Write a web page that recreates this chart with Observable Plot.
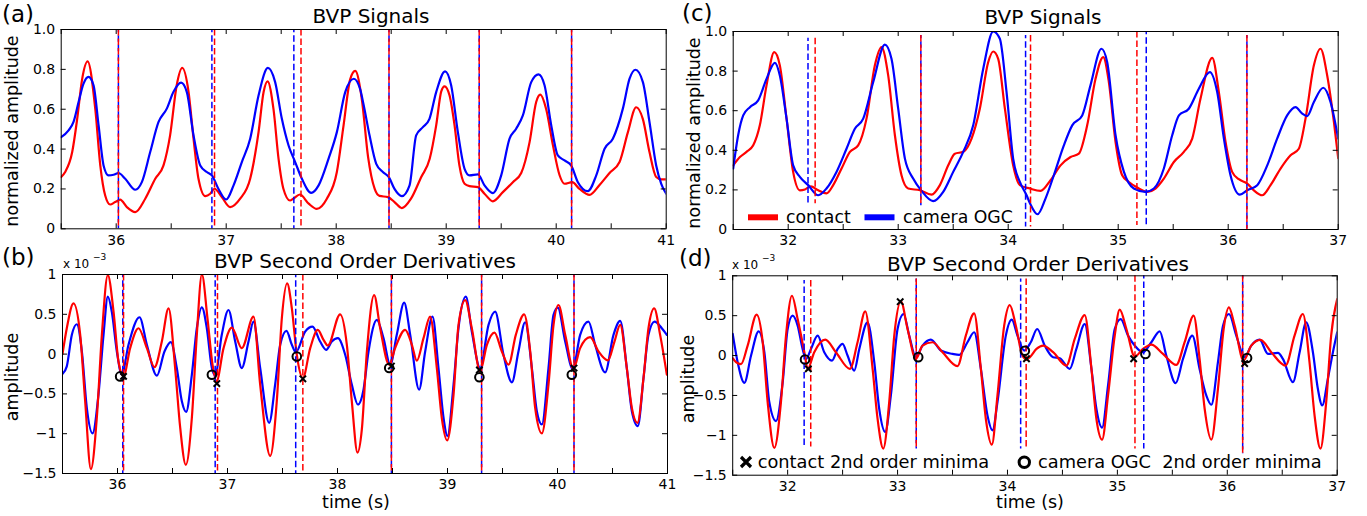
<!DOCTYPE html>
<html><head><meta charset="utf-8">
<script src="https://cdn.jsdelivr.net/npm/d3@7"></script>
<script src="https://cdn.jsdelivr.net/npm/@observablehq/plot@0.6"></script>
<style>
body{margin:0;background:#fff;}
#root{position:relative;width:1367px;height:516px;overflow:hidden;background:#fff;font-family:"DejaVu Sans",sans-serif;}
#root svg{position:absolute;}
</style></head><body><div id="root"></div>
<script>
// ---------- data: [time (s), value] ----------
const aContact = [[35.5,0.26],[35.536,0.285],[35.6,0.385],[35.645,0.55],[35.69,0.75],[35.74,0.84],[35.81,0.6],[35.855,0.32],[35.9,0.167],[35.945,0.122],[35.99,0.134],[36.036,0.146],[36.097,0.109],[36.173,0.084],[36.264,0.151],[36.355,0.251],[36.43,0.318],[36.49,0.469],[36.55,0.72],[36.6,0.807],[36.658,0.686],[36.703,0.452],[36.748,0.251],[36.81,0.164],[36.855,0.176],[36.894,0.201],[36.96,0.159],[37.036,0.109],[37.127,0.151],[37.218,0.251],[37.294,0.485],[37.34,0.686],[37.376,0.74],[37.43,0.6],[37.476,0.351],[37.52,0.201],[37.58,0.142],[37.61,0.151],[37.67,0.172],[37.75,0.126],[37.824,0.1],[37.915,0.151],[38.006,0.285],[38.067,0.519],[38.127,0.75],[38.173,0.792],[38.233,0.65],[38.29,0.36],[38.35,0.2],[38.394,0.165],[38.47,0.159],[38.53,0.134],[38.597,0.104],[38.68,0.151],[38.773,0.26],[38.85,0.351],[38.909,0.519],[38.955,0.69],[38.985,0.715],[39.03,0.67],[39.076,0.519],[39.12,0.318],[39.167,0.226],[39.212,0.214],[39.288,0.209],[39.348,0.176],[39.424,0.138],[39.515,0.184],[39.606,0.234],[39.682,0.28],[39.758,0.435],[39.818,0.636],[39.855,0.673],[39.909,0.6],[39.97,0.42],[40.03,0.27],[40.076,0.226],[40.145,0.234],[40.212,0.2],[40.303,0.17],[40.394,0.22],[40.485,0.28],[40.576,0.335],[40.652,0.485],[40.727,0.61],[40.788,0.55],[40.848,0.385],[40.909,0.26],[40.955,0.248],[41,0.248]];
const aCamera = [[35.5,0.46],[35.567,0.494],[35.612,0.536],[35.658,0.636],[35.703,0.728],[35.748,0.762],[35.794,0.72],[35.84,0.519],[35.885,0.318],[35.93,0.268],[35.976,0.271],[36.02,0.28],[36.082,0.251],[36.173,0.196],[36.233,0.234],[36.309,0.385],[36.385,0.536],[36.46,0.603],[36.52,0.686],[36.59,0.733],[36.642,0.686],[36.703,0.469],[36.764,0.318],[36.824,0.285],[36.87,0.268],[36.93,0.2],[37.0,0.147],[37.067,0.218],[37.142,0.335],[37.218,0.452],[37.294,0.669],[37.379,0.807],[37.445,0.736],[37.506,0.552],[37.567,0.418],[37.627,0.335],[37.688,0.251],[37.773,0.18],[37.84,0.218],[37.93,0.351],[38.006,0.485],[38.082,0.686],[38.16,0.753],[38.218,0.7],[38.25,0.62],[38.303,0.469],[38.364,0.326],[38.424,0.285],[38.479,0.259],[38.53,0.2],[38.597,0.164],[38.667,0.218],[38.727,0.469],[38.788,0.51],[38.848,0.552],[38.909,0.686],[38.99,0.79],[39.045,0.72],[39.106,0.485],[39.167,0.301],[39.212,0.268],[39.288,0.273],[39.348,0.218],[39.424,0.179],[39.5,0.268],[39.576,0.452],[39.636,0.502],[39.697,0.569],[39.773,0.736],[39.84,0.775],[39.894,0.72],[39.955,0.519],[40.015,0.368],[40.076,0.343],[40.136,0.318],[40.197,0.234],[40.288,0.189],[40.364,0.268],[40.44,0.402],[40.515,0.452],[40.606,0.603],[40.667,0.753],[40.721,0.798],[40.788,0.736],[40.848,0.536],[40.909,0.318],[40.955,0.226],[41,0.176]];
const bContact = [[35.5,0],[35.539,0.325],[35.6,0.638],[35.661,0.242],[35.706,-0.592],[35.758,-1.446],[35.812,-0.8],[35.858,0.242],[35.912,0.992],[35.964,0.533],[36.009,-0.092],[36.055,-0.279],[36.115,0.075],[36.191,0.325],[36.267,0.075],[36.336,-0.163],[36.403,0.158],[36.464,0.575],[36.524,-0.175],[36.57,-0.925],[36.621,-1.392],[36.676,-0.8],[36.721,0.242],[36.767,1.0],[36.818,0.45],[36.864,-0.133],[36.9,-0.342],[36.964,0.075],[37.039,0.333],[37.13,0.075],[37.236,0.471],[37.297,-0.383],[37.388,-1.279],[37.448,-0.592],[37.494,0.45],[37.542,0.888],[37.585,0.575],[37.63,-0.008],[37.685,-0.3],[37.752,0.075],[37.821,0.304],[37.873,0.179],[37.912,0.108],[38.024,0.5],[38.085,0.117],[38.13,-0.592],[38.182,-1.238],[38.221,-0.95],[38.267,0.033],[38.333,0.742],[38.388,0.325],[38.47,-0.133],[38.524,0.075],[38.615,0.304],[38.676,0.117],[38.721,-0.083],[38.782,0.2],[38.842,0.471],[38.903,-0.175],[38.948,-0.8],[38.997,-1.083],[39.055,-0.508],[39.1,0.367],[39.161,0.679],[39.221,0.325],[39.297,-0.217],[39.358,0.117],[39.427,0.271],[39.494,0.033],[39.555,-0.133],[39.621,0.242],[39.697,0.5],[39.752,0.033],[39.797,-0.675],[39.858,-0.996],[39.918,-0.383],[39.964,0.367],[40.009,0.617],[40.07,0.242],[40.145,-0.183],[40.206,0.075],[40.297,0.213],[40.373,0.033],[40.458,-0.079],[40.518,0.158],[40.57,0.367],[40.63,-0.175],[40.676,-0.675],[40.727,-0.863],[40.782,-0.3],[40.827,0.325],[40.879,0.575],[40.933,0.242],[40.994,-0.258]];
const bCamera = [[35.5,-0.25],[35.539,-0.154],[35.585,0.242],[35.63,0.375],[35.676,0.033],[35.721,-0.675],[35.773,-0.996],[35.827,-0.508],[35.873,0.242],[35.912,0.721],[35.948,0.533],[35.994,0.033],[36.039,-0.258],[36.1,0.117],[36.2,0.463],[36.267,0.117],[36.358,-0.271],[36.427,0.033],[36.485,0.15],[36.539,-0.175],[36.585,-0.592],[36.624,-0.725],[36.676,-0.258],[36.721,0.325],[36.767,0.588],[36.812,0.325],[36.858,-0.175],[36.888,-0.267],[36.948,0.242],[37.009,0.554],[37.07,0.158],[37.13,-0.175],[37.191,0.158],[37.236,0.408],[37.297,-0.175],[37.379,-0.863],[37.433,-0.383],[37.479,0.117],[37.536,0.292],[37.585,0.117],[37.621,0.025],[37.706,0.283],[37.773,0.346],[37.842,0.158],[37.897,0.054],[37.948,0.158],[38.003,0.2],[38.07,-0.008],[38.13,-0.383],[38.185,-0.633],[38.236,-0.45],[38.282,0.033],[38.358,0.429],[38.418,0.2],[38.479,-0.133],[38.539,0.242],[38.606,0.646],[38.661,0.242],[38.742,-0.446],[38.797,0.033],[38.864,0.471],[38.918,-0.175],[38.964,-0.8],[39.0,-1.029],[39.055,-0.383],[39.1,0.325],[39.167,0.721],[39.221,0.283],[39.297,-0.175],[39.373,0.367],[39.433,0.533],[39.509,-0.008],[39.585,-0.354],[39.645,0.033],[39.706,0.4],[39.767,-0.175],[39.812,-0.717],[39.858,-0.883],[39.918,-0.175],[39.964,0.492],[40.003,0.583],[40.07,0.158],[40.139,-0.188],[40.206,0.242],[40.282,0.408],[40.342,0.117],[40.433,-0.229],[40.509,0.242],[40.57,0.417],[40.63,-0.175],[40.676,-0.717],[40.73,-0.904],[40.782,-0.3],[40.827,0.242],[40.882,0.408],[40.948,0.325],[40.994,0.242]];
const cContact = [[31.5,0.324],[31.561,0.366],[31.621,0.392],[31.682,0.425],[31.742,0.526],[31.803,0.728],[31.873,0.896],[31.924,0.829],[31.985,0.56],[32.045,0.291],[32.106,0.198],[32.152,0.202],[32.206,0.218],[32.273,0.198],[32.348,0.182],[32.409,0.224],[32.485,0.308],[32.561,0.392],[32.636,0.425],[32.712,0.56],[32.788,0.829],[32.848,0.921],[32.909,0.778],[32.97,0.476],[33.03,0.274],[33.091,0.207],[33.197,0.198],[33.303,0.176],[33.379,0.224],[33.455,0.324],[33.515,0.383],[33.591,0.392],[33.667,0.459],[33.742,0.61],[33.818,0.845],[33.864,0.899],[33.909,0.862],[33.97,0.61],[34.045,0.324],[34.106,0.224],[34.197,0.207],[34.294,0.195],[34.385,0.249],[34.476,0.324],[34.567,0.366],[34.642,0.383],[34.718,0.526],[34.794,0.761],[34.864,0.871],[34.915,0.745],[34.976,0.442],[35.036,0.274],[35.097,0.24],[35.173,0.212],[35.264,0.19],[35.339,0.207],[35.415,0.257],[35.506,0.341],[35.597,0.392],[35.673,0.459],[35.748,0.66],[35.855,0.867],[35.915,0.694],[35.976,0.442],[36.036,0.291],[36.097,0.254],[36.173,0.232],[36.233,0.198],[36.309,0.173],[36.385,0.224],[36.476,0.308],[36.567,0.375],[36.642,0.408],[36.703,0.56],[36.779,0.829],[36.839,0.913],[36.9,0.778],[36.961,0.543],[37.0,0.36]];
const cCamera = [[31.5,0.308],[31.545,0.476],[31.591,0.576],[31.652,0.618],[31.727,0.652],[31.803,0.761],[31.879,0.842],[31.924,0.778],[31.985,0.56],[32.045,0.324],[32.106,0.266],[32.182,0.224],[32.273,0.173],[32.348,0.207],[32.439,0.291],[32.53,0.408],[32.606,0.509],[32.682,0.56],[32.773,0.745],[32.879,0.934],[32.939,0.862],[33.0,0.61],[33.061,0.358],[33.136,0.257],[33.212,0.195],[33.318,0.143],[33.409,0.19],[33.5,0.291],[33.591,0.392],[33.682,0.526],[33.773,0.812],[33.864,1.0],[33.924,0.963],[33.985,0.694],[34.045,0.358],[34.106,0.24],[34.167,0.173],[34.2,0.13],[34.267,0.077],[34.339,0.156],[34.415,0.274],[34.506,0.425],[34.582,0.526],[34.673,0.576],[34.748,0.728],[34.848,0.913],[34.9,0.845],[34.976,0.476],[35.052,0.291],[35.142,0.207],[35.248,0.19],[35.324,0.207],[35.415,0.308],[35.491,0.476],[35.552,0.576],[35.642,0.61],[35.733,0.711],[35.833,0.795],[35.9,0.694],[35.961,0.459],[36.021,0.274],[36.106,0.176],[36.173,0.198],[36.264,0.224],[36.355,0.324],[36.445,0.459],[36.536,0.576],[36.612,0.618],[36.673,0.585],[36.718,0.573],[36.779,0.644],[36.864,0.716],[36.93,0.644],[37.0,0.459]];
const dContact = [[31.5,-0.033],[31.53,-0.083],[31.576,-0.108],[31.636,0.125],[31.718,0.513],[31.773,0.167],[31.818,-0.583],[31.879,-1.158],[31.939,-0.583],[31.985,0.25],[32.039,0.75],[32.091,0.458],[32.152,0.042],[32.182,-0.167],[32.242,0.042],[32.342,0.2],[32.439,0.042],[32.567,-0.167],[32.636,0.167],[32.706,0.554],[32.773,-0.167],[32.818,-0.792],[32.87,-1.167],[32.924,-0.583],[32.97,0.25],[33.03,0.679],[33.091,0.333],[33.167,-0.042],[33.227,0.125],[33.318,0.167],[33.409,0.042],[33.545,-0.133],[33.621,0.25],[33.697,0.529],[33.758,-0.167],[33.803,-0.792],[33.858,-1.117],[33.909,-0.5],[33.97,0.375],[34.021,0.633],[34.076,0.375],[34.136,0],[34.167,-0.042],[34.203,-0.021],[34.264,0.083],[34.324,0.125],[34.415,0.042],[34.536,-0.125],[34.612,0.208],[34.703,0.508],[34.764,-0.167],[34.809,-0.792],[34.861,-1.054],[34.915,-0.5],[34.976,0.25],[35.021,0.575],[35.082,0.333],[35.158,-0.013],[35.233,0.083],[35.309,0.138],[35.415,0.021],[35.536,-0.117],[35.612,0.167],[35.694,0.5],[35.748,-0.042],[35.794,-0.667],[35.855,-1.054],[35.915,-0.417],[35.967,0.333],[36.015,0.604],[36.067,0.375],[36.148,-0.063],[36.218,0.125],[36.303,0.196],[36.4,0.042],[36.53,-0.125],[36.612,0.25],[36.688,0.521],[36.748,-0.083],[36.794,-0.75],[36.848,-1.167],[36.9,-0.583],[36.945,0.25],[37.0,0.708]];
const dCamera = [[31.5,0.271],[31.545,-0.083],[31.606,-0.342],[31.667,0],[31.736,0.304],[31.788,0.042],[31.833,-0.583],[31.894,-0.821],[31.955,-0.333],[32.0,0.333],[32.045,0.5],[32.091,0.375],[32.136,0.083],[32.167,-0.042],[32.212,0.083],[32.273,0.25],[32.333,0.042],[32.403,-0.063],[32.455,0.083],[32.5,0.146],[32.545,0],[32.606,-0.188],[32.652,0.083],[32.727,0.417],[32.788,-0.083],[32.833,-0.667],[32.888,-0.958],[32.939,-0.5],[33.0,0.333],[33.055,0.521],[33.106,0.25],[33.167,-0.021],[33.227,0.125],[33.303,0.2],[33.394,0.063],[33.5,0.021],[33.561,0.008],[33.636,0.167],[33.697,0.292],[33.758,-0.167],[33.818,-0.75],[33.864,-0.938],[33.909,-0.583],[33.985,0.25],[34.039,0.45],[34.091,0.25],[34.152,0.063],[34.212,0.167],[34.27,0.333],[34.339,0.125],[34.415,-0.021],[34.476,-0.033],[34.567,-0.167],[34.627,0.083],[34.703,0.396],[34.764,-0.167],[34.809,-0.667],[34.861,-0.904],[34.915,-0.375],[34.976,0.333],[35.03,0.458],[35.097,0.25],[35.158,0.125],[35.233,0.042],[35.309,0.167],[35.385,0.304],[35.445,0],[35.53,-0.346],[35.597,-0.042],[35.682,0.25],[35.748,-0.167],[35.809,-0.5],[35.855,-0.617],[35.915,-0.083],[35.961,0.375],[36.015,0.521],[36.082,0.25],[36.158,-0.021],[36.218,0.125],[36.294,0.2],[36.37,0.021],[36.461,0.033],[36.506,-0.042],[36.597,-0.333],[36.658,0.042],[36.718,0.417],[36.779,0.042],[36.824,-0.417],[36.864,-0.625],[36.915,-0.292],[36.961,0.042],[37.0,0.292]];

// vertical dashed markers (times)
const aDashBlue = [36.02, 36.87, 37.615, 38.48, 39.3, 40.14];
const aDashRed  = [36.02, 36.894, 37.68, 38.48, 39.3, 40.14];
const bDashBlue = [36.048, 36.888, 37.62, 38.49, 39.31, 40.15];
const bDashRed  = [36.055, 36.909, 37.685, 38.49, 39.31, 40.15];
// [time, top, bottom]
const cDashBlue = [[32.18,0.966,0.13],[33.206,0.98,0.12],[34.158,0.98,0.013],[35.255,1.0,0.02],[36.17,0.98,0.0]];
const cDashRed  = [[32.245,0.966,0.13],[33.206,0.98,0.12],[34.203,0.98,0.013],[35.17,1.0,0.02],[36.17,0.98,0.0]];
const dDashBlue = [[32.15,0.94,-1.146],[33.17,0.96,-1.17],[34.12,0.96,-1.17],[35.24,1.0,-1.17],[36.14,1.0,-1.23]];
const dDashRed  = [[32.21,0.94,-1.146],[33.17,0.96,-1.17],[34.17,0.96,-1.17],[35.16,1.0,-1.17],[36.14,1.0,-1.23]];

// minima markers (units of 1e-3)
const bCircles = [[36.024,-0.28],[36.858,-0.26],[37.63,-0.03],[38.47,-0.175],[39.29,-0.29],[40.13,-0.26]];
const bCrosses = [[36.055,-0.28],[36.903,-0.37],[37.685,-0.31],[38.49,-0.15],[39.29,-0.2],[40.15,-0.175]];
const dCircles = [[32.158,-0.05],[33.188,-0.02],[34.158,0.06],[35.255,0.02],[36.18,-0.03]];
const dCrosses = [[32.188,-0.167],[33.024,0.675],[34.173,-0.04],[35.148,-0.04],[36.158,-0.1]];

// ticks
const aXMinor = d3.range(35.5, 41.01, 0.5), aXMajor = [36,37,38,39,40,41];
const cXMinor = d3.range(31.5, 37.01, 0.5), cXMajor = [32,33,34,35,36,37];
const sigY = [0,0.2,0.4,0.6,0.8,1.0];
const derY = [-1.5,-1,-0.5,0,0.5,1];

const RED = "#ff0000", BLUE = "#0000ff";
const root = document.getElementById("root");

function panel(cfg) {
  const [fl, ft, fr, fb] = cfg.frame;
  const iw = fr - fl, ih = fb - ft;
  const X = d => d[0], Y = d => d[1];
  const lr = Plot.line(cfg.red, {x: X, y: Y, stroke: RED, strokeWidth: 2.2, curve: "monotone-x", clip: true});
  const lb = Plot.line(cfg.blue, {x: X, y: Y, stroke: BLUE, strokeWidth: 2.2, curve: "monotone-x", clip: true});
  const dashOpt = (c, off) => ({stroke: c, strokeWidth: 1.5, strokeDasharray: "6.5,3", strokeDashoffset: off});
  let db, dr;
  if (cfg.dashRange) {
    db = Plot.ruleX(cfg.dashBlue, {x: d => d[0], y1: d => d[1], y2: d => d[2], ...dashOpt(BLUE, 3.2)});
    dr = Plot.ruleX(cfg.dashRed, {x: d => d[0], y1: d => d[1], y2: d => d[2], ...dashOpt(RED, 0)});
  } else {
    db = Plot.ruleX(cfg.dashBlue, {x: d => d, ...dashOpt(BLUE, 3.2)});
    dr = Plot.ruleX(cfg.dashRed, {x: d => d, ...dashOpt(RED, 0)});
  }
  const T = 5;
  const marks = [
    ...(cfg.redOnTop ? [lb, lr] : [lr, lb]),
    db, dr,
    Plot.ruleX(cfg.xMinor, {x: d => d, insetTop: ih - T, stroke: "black", strokeWidth: 1}),
    Plot.ruleX(cfg.xMinor, {x: d => d, insetBottom: ih - T, stroke: "black", strokeWidth: 1}),
    Plot.ruleY(cfg.yTicks, {y: d => d, insetRight: iw - T, stroke: "black", strokeWidth: 1}),
    Plot.ruleY(cfg.yTicks, {y: d => d, insetLeft: iw - T, stroke: "black", strokeWidth: 1}),
    Plot.frame({stroke: "black", strokeWidth: 1}),
    Plot.axisX(cfg.xMajor, {tickSize: 0, tickPadding: 6, tickFormat: d => String(d), label: null, fontSize: 14}),
    Plot.axisY(cfg.yTicks, {tickSize: 0, tickPadding: 6, tickFormat: cfg.yFmt, label: null, fontSize: 14})
  ];
  if (cfg.circles) {
    marks.push(Plot.dot(cfg.circles, {x: X, y: Y, r: 4.3, stroke: "black", strokeWidth: 2, fill: "none"}));
    marks.push(Plot.dot(cfg.crosses, {x: X, y: Y, symbol: "times", r: 3, stroke: "black", strokeWidth: 2}));
  }
  const svg = Plot.plot({
    width: cfg.width, height: cfg.height,
    marginLeft: fl - cfg.left, marginTop: ft - cfg.top,
    marginRight: cfg.left + cfg.width - fr, marginBottom: cfg.top + cfg.height - fb,
    x: {domain: cfg.xDomain},
    y: {domain: cfg.yDomain},
    style: {fontFamily: "DejaVu Sans", fontSize: "14px", color: "black", background: "transparent", overflow: "visible"},
    marks
  });
  svg.style.left = cfg.left + "px";
  svg.style.top = cfg.top + "px";
  root.appendChild(svg);
}

const sigFmt = d => d === 0 ? "0" : d.toFixed(1);
const derFmt = d => String(d).replace("-", "\u2212");

panel({left: 0, top: 0, width: 684, height: 252, frame: [60.7, 29, 665.7, 228.3], xDomain: [35.5, 41], yDomain: [0, 1],
  xMinor: aXMinor, xMajor: aXMajor, yTicks: sigY, yFmt: sigFmt, red: aContact, blue: aCamera, dashBlue: aDashBlue, dashRed: aDashRed});
panel({left: 0, top: 252, width: 684, height: 264, frame: [62, 274, 667, 473], xDomain: [35.5, 41], yDomain: [-1.5, 1],
  xMinor: aXMinor, xMajor: aXMajor, yTicks: derY, yFmt: derFmt, red: bContact, blue: bCamera, dashBlue: bDashBlue, dashRed: bDashRed,
  redOnTop: true, circles: bCircles, crosses: bCrosses});
panel({left: 684, top: 0, width: 683, height: 252, frame: [732.7, 31, 1337.7, 229], xDomain: [31.5, 37], yDomain: [0, 1],
  xMinor: cXMinor, xMajor: cXMajor, yTicks: sigY, yFmt: sigFmt, red: cContact, blue: cCamera, dashBlue: cDashBlue, dashRed: cDashRed, dashRange: true});
panel({left: 684, top: 252, width: 683, height: 264, frame: [732.2, 275.3, 1336.7, 474.7], xDomain: [31.5, 37], yDomain: [-1.5, 1],
  xMinor: cXMinor, xMajor: cXMajor, yTicks: derY, yFmt: derFmt, red: dContact, blue: dCamera, dashBlue: dDashBlue, dashRed: dDashRed, dashRange: true,
  redOnTop: true, circles: dCircles, crosses: dCrosses});

// ---------- overlay text: titles, labels, legends ----------
const ov = d3.select(root).append("svg").attr("width", 1367).attr("height", 516)
  .style("left", "0px").style("top", "0px").style("pointer-events", "none")
  .style("font-family", "DejaVu Sans");
const txt = (s, x, y, size, anchor = "start", rot = 0) => {
  const t = ov.append("text").attr("x", x).attr("y", y).attr("font-size", size).attr("text-anchor", anchor)
    .attr("fill", "black").style("white-space", "pre").text(s);
  if (rot) t.attr("transform", `rotate(${rot},${x},${y})`);
  return t;
};
txt("(a)", 2, 22, 23); txt("(b)", 2, 265, 23); txt("(c)", 682, 21, 23); txt("(d)", 679, 266, 23);
txt("BVP Signals", 371, 23, 20, "middle");
txt("BVP Signals", 1043, 24, 20, "middle");
txt("BVP Second Order Derivatives", 365, 267.5, 20, "middle");
txt("BVP Second Order Derivatives", 1038, 270.5, 20, "middle");
txt("time (s)", 356, 507.5, 17.5, "middle");
txt("time (s)", 1030, 507.5, 17.5, "middle");
txt("normalized amplitude", 18, 131, 17.5, "middle", -90);
txt("normalized amplitude", 700, 133, 17.5, "middle", -90);
txt("amplitude", 18, 377, 17.5, "middle", -90);
txt("amplitude", 693.5, 379, 17.5, "middle", -90);
for (const [x0, y0] of [[63, 268], [732, 268.5]]) {
  txt("x 10", x0, y0, 12);
  txt("\u22123", x0 + 30, y0 - 8, 9);
}
// legend (c)
ov.append("line").attr("x1", 748).attr("x2", 778).attr("y1", 217.3).attr("y2", 217.3).attr("stroke", RED).attr("stroke-width", 6);
txt("contact", 786, 222.5, 17.3);
ov.append("line").attr("x1", 864.5).attr("x2", 894.5).attr("y1", 217.3).attr("y2", 217.3).attr("stroke", BLUE).attr("stroke-width", 6);
txt("camera OGC", 903, 222.5, 17.3);
// legend (d)
ov.append("path").attr("d", "M741,457L751,467M751,457L741,467").attr("stroke", "black").attr("stroke-width", 3.2);
txt("contact 2nd order minima", 757.7, 467.5, 17.8);
ov.append("circle").attr("cx", 1024.3).attr("cy", 462.3).attr("r", 5.2).attr("fill", "none").attr("stroke", "black").attr("stroke-width", 3);
txt("camera OGC  2nd order minima", 1038, 467.5, 17.8);
</script>
</body></html>
